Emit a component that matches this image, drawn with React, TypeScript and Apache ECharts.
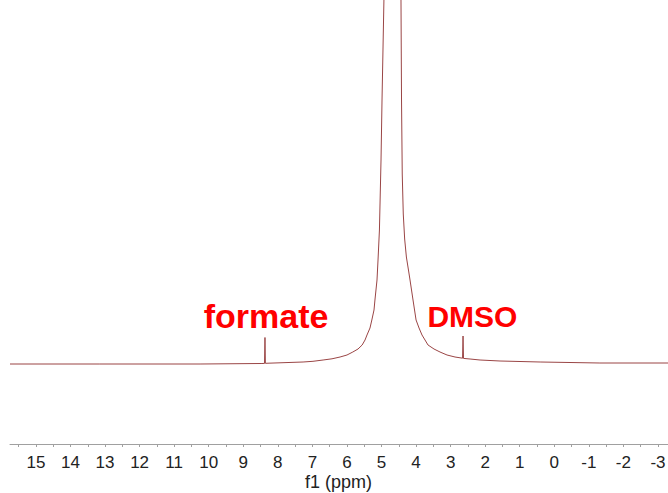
import React, { useEffect, useRef } from "react";
import * as echarts from "echarts";

// chemical shift (ppm)
const shifts: number[] = [
  15.75, 13.15, 10.25, 8.46, 8.385, 8.372, 8.36, 7.27, 6.983, 6.69, 6.433, 6.2, 5.999, 5.83, 5.68, 5.56,
  5.477, 5.42, 5.333, 5.28, 5.217, 5.19, 5.13, 5.101, 5.06, 5.014, 4.985, 4.93, 4.87, 4.68, 4.49, 4.436,
  4.421, 4.40, 4.37, 4.33, 4.28, 4.22, 4.175, 4.088, 4.0, 3.914, 3.828, 3.741, 3.654, 3.481, 3.307, 3.104,
  2.873, 2.655, 2.641, 2.627, 2.438, 2.149, 1.57, 0.41, -1.32, -3.29,
];
// intensity (arbitrary units)
const intensity: number[] = [
  0, 0, 0, 0.5, 0.6, 26.5, 0.7, 2, 2.7, 4, 5.2, 7, 9, 12, 15, 19,
  24, 29, 36, 44, 54, 64, 84, 104, 134, 204, 264, 364, 500, 3000, 500, 364,
  264, 190, 150, 125, 107, 94, 84, 64, 44, 36, 29, 24, 19, 15, 12, 9,
  7, 5.8, 28, 5.6, 5, 4, 3, 2, 1, 1,
];

const tickLabels: number[] = [15, 14, 13, 12, 11, 10, 9, 8, 7, 6, 5, 4, 3, 2, 1, 0, -1, -2, -3];
const tickMarks: number[] = [
  15.5, 15, 14.5, 14, 13.5, 13, 12.5, 12, 11.5, 11, 10.5, 10, 9.5, 9, 8.5, 8, 7.5, 7, 6.5, 6, 5.5, 5,
  4.5, 4, 3.5, 3, 2.5, 2, 1.5, 1, 0.5, 0, -0.5, -1, -1.5, -2, -2.5, -3,
];

const axisTitle = "f1 (ppm)";

const annotations = [
  { name: "formate", ppm: 8.34, level: 48, size: 34 },
  { name: "DMSO", ppm: 2.37, level: 48, size: 30 },
];

export default function App() {
  const ref = useRef<HTMLDivElement>(null);
  useEffect(() => {
    if (!ref.current) return;
    const chart = echarts.init(ref.current, undefined, { renderer: "svg" });
    const data = shifts.map((s, i) => [s, intensity[i]]);
    chart.setOption({
      animation: false,
      backgroundColor: "#ffffff",
      grid: { left: 10, right: 0, top: 0, bottom: 49, containLabel: false, outerBoundsMode: "none" },
      graphic: [
        {
          type: "text",
          left: 341 - 36,
          top: 473,
          style: {
            text: axisTitle,
            fontFamily: "Liberation Sans, Arial, sans-serif",
            fontSize: 18,
            fill: "#222",
          },
        },
      ],
      xAxis: {
        type: "value",
        inverse: true,
        min: -3.29,
        max: 15.75,
        axisLine: { show: true, onZero: false, lineStyle: { color: "#a0a0a0", width: 1 } },
        axisTick: { show: true, customValues: tickMarks, length: 3, lineStyle: { color: "#a0a0a0" } },
        axisLabel: {
          customValues: tickLabels,
          margin: 10,
          fontFamily: "Liberation Sans, Arial, sans-serif",
          fontSize: 17,
          color: "#222",
          hideOverlap: false,
        },
        splitLine: { show: false },
      },
      yAxis: {
        type: "value",
        min: -80,
        max: 364,
        show: false,
      },
      series: [
        {
          type: "line",
          data,
          symbol: "none",
          clip: true,
          lineStyle: { color: "#9a4545", width: 1 },
          markPoint: {
            symbol: "circle",
            symbolSize: 0,
            data: annotations.map((a) => ({
              coord: [a.ppm, a.level],
              label: {
                show: true,
                position: "inside",
                formatter: a.name,
                color: "#ff0000",
                fontWeight: "bold",
                fontSize: a.size,
                fontFamily: "Liberation Sans, Arial, sans-serif",
              },
            })),
          },
        },
      ],
    });
    return () => chart.dispose();
  }, []);
  return (
    <div
      ref={ref}
      style={{ position: "fixed", left: 0, top: 0, width: 668, height: 493, background: "#fff" }}
    />
  );
}
